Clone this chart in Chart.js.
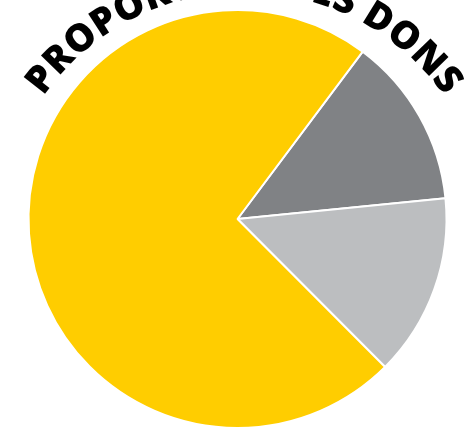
<!DOCTYPE html>
<html>
<head>
<meta charset="utf-8">
<script src="https://cdn.jsdelivr.net/npm/chart.js@4/dist/chart.umd.min.js"></script>
<style>
    html, body { margin: 0; padding: 0; background: #fff; }
    #wrap { width: 473px; height: 433px; }
</style>
</head>
<body>
<div id="wrap"><canvas id="donsChart" width="473" height="433"></canvas></div>
<script>
// slices, clockwise from the top-right boundary
const labels = ['Part 1', 'Part 2', 'Part 3'];
const values = [13.2, 14.1, 72.7];
const colors = ['#808285', '#BCBEC0', '#FFCD00'];
const title = 'PROPORTION DES DONS';

// title bent along a circle slightly off the pie's centre; its middle runs off the top edge
const arcTitle = {
    id: 'arcTitle',
    beforeDatasetsDraw(chart) {
        const arc = chart.getDatasetMeta(0).data[0];
        const ctx = chart.ctx;
        const cx = arc.x + 6.5;
        const cy = arc.y + 18;
        const r = 245;
        const first = -52.1 * Math.PI / 180;
        const last = 52.3 * Math.PI / 180;

        ctx.save();
        ctx.font = '800 38px "Open Sans"';
        ctx.fillStyle = '#000';
        ctx.textAlign = 'center';
        const chars = title.split('');
        const widths = chars.map(c => ctx.measureText(c).width);
        let inner = 0;
        for (let i = 0; i < chars.length - 1; i++) inner += (widths[i] + widths[i + 1]) / 2;
        const gap = ((last - first) * r - inner) / (chars.length - 1);
        let a = first;
        chars.forEach((c, i) => {
            ctx.save();
            ctx.translate(cx, cy);
            ctx.rotate(a);
            ctx.fillText(c, 0, -r);
            ctx.restore();
            if (i < chars.length - 1) a += ((widths[i] + widths[i + 1]) / 2 + gap) / r;
        });
        ctx.restore();
    }
};

new Chart(document.getElementById('donsChart'), {
    type: 'pie',
    data: {
        labels: labels,
        datasets: [{
            data: values,
            backgroundColor: colors,
            borderColor: '#fff',
            borderWidth: 2
        }]
    },
    options: {
        responsive: false,
        devicePixelRatio: 1,
        animation: false,
        events: [],
        rotation: 36.8,
        layout: { padding: { top: 9, bottom: 4, left: 27, right: 25 } },
        plugins: {
            legend: { display: false },
            tooltip: { enabled: false },
            title: { display: false }
        }
    },
    plugins: [arcTitle]
});
</script>
</body>
</html>
